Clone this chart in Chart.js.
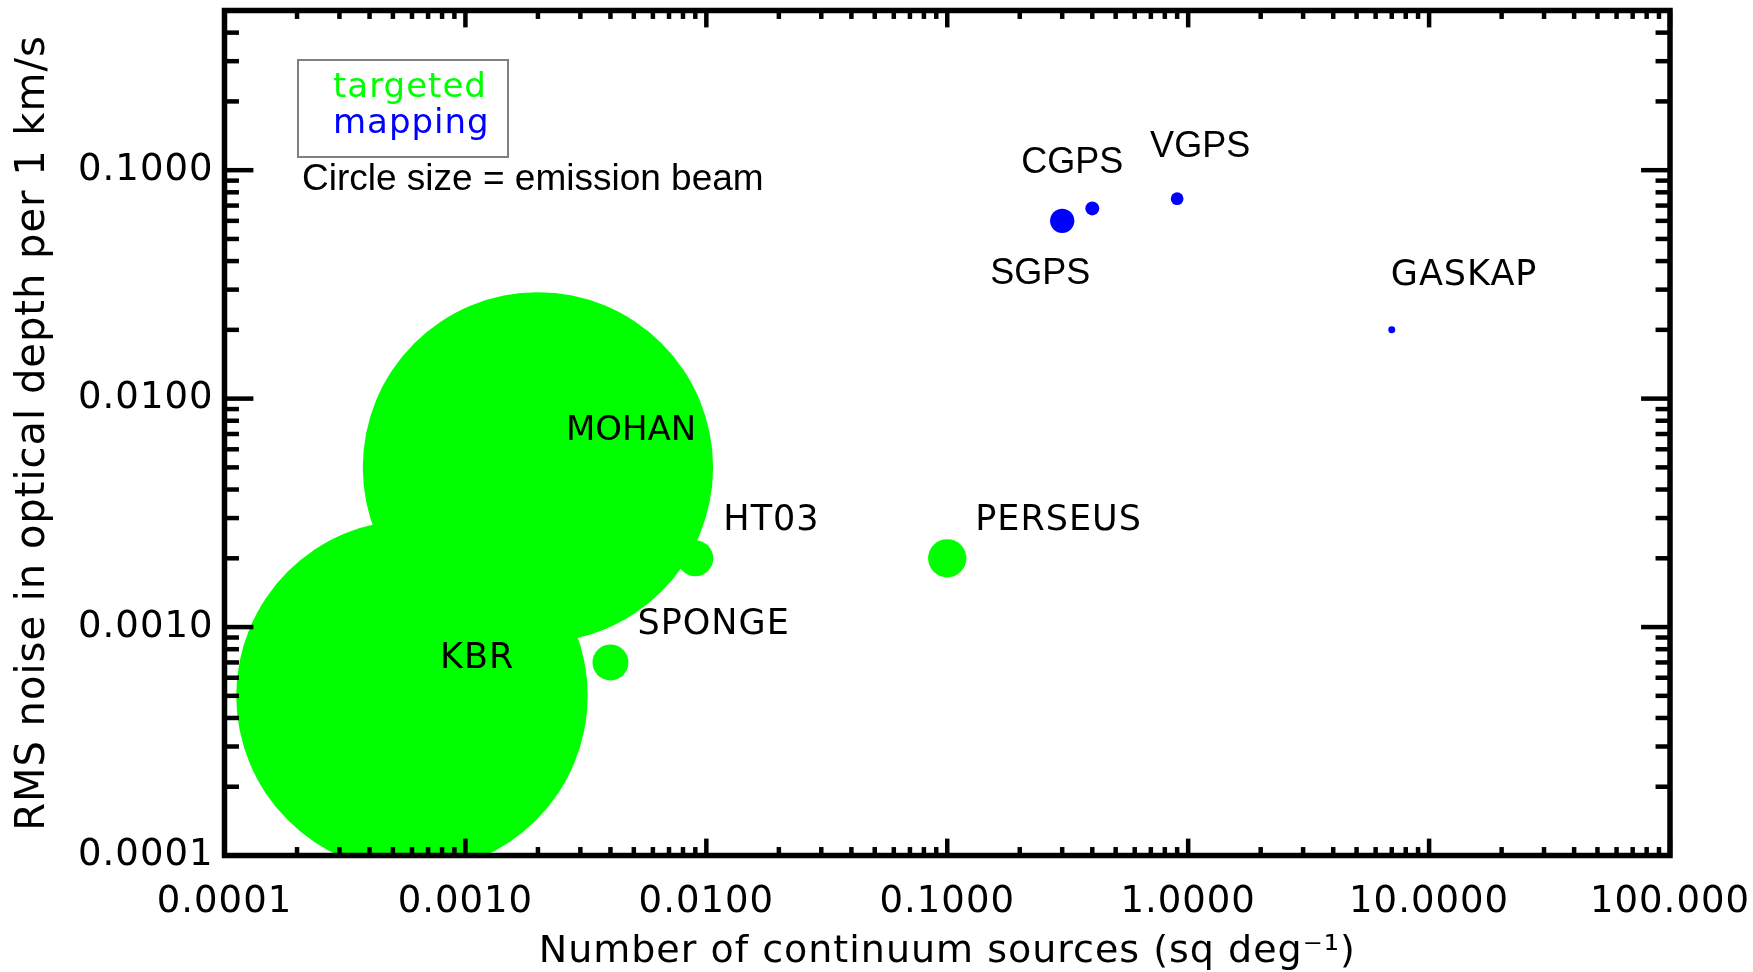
<!DOCTYPE html>
<html>
<head>
<meta charset="utf-8">
<script src="https://cdn.jsdelivr.net/npm/chart.js@4.4.1/dist/chart.umd.min.js"></script>
<style>
  html, body { margin: 0; padding: 0; background: #fff; }
  #wrap { width: 1753px; height: 972px; }
</style>
</head>
<body>
<div id="wrap"><canvas id="c" width="1753" height="972"></canvas></div>
<script>
// HI absorption surveys: continuum source density, optical-depth noise and emission beam
const surveys     = ['KBR', 'MOHAN', 'HT03', 'SPONGE', 'PERSEUS', 'SGPS', 'CGPS', 'VGPS', 'GASKAP'];
const surveyKind  = ['targeted', 'targeted', 'targeted', 'targeted', 'targeted', 'mapping', 'mapping', 'mapping', 'mapping'];
const srcDensity  = [0.0006, 0.002, 0.009, 0.004, 0.1, 0.3, 0.4, 0.9, 7];          // sq deg^-1
const rmsTau      = [0.0005, 0.005, 0.002, 0.0007, 0.002, 0.06, 0.068, 0.075, 0.02]; // per 1 km/s
const beamArcmin  = [30.3, 30.2, 3.1, 3.1, 3.3, 2.1, 1.2, 1.1, 0.6];                // emission beam

const xTickValues = [1e-4, 1e-3, 1e-2, 1e-1, 1, 10, 100];
const xTickLabels = ['0.0001', '0.0010', '0.0100', '0.1000', '1.0000', '10.0000', '100.000'];
const yTickValues = [1e-4, 1e-3, 1e-2, 1e-1];
const yTickLabels = ['0.0001', '0.0010', '0.0100', '0.1000'];

const kindNames  = ['targeted', 'mapping'];
const kindColors = { targeted: '#00ff00', mapping: '#0000ff' };

// drawing style
const PX_PER_ARCMIN = 5.8;
const IDL_FONT = '"DejaVu Sans", sans-serif';
const ARIAL_FONT = '"Liberation Sans", Arial, sans-serif';

// survey label placement relative to its circle centre (pixels)
const labelLayout = {
  KBR:     { dx: 28,  dy: -37, align: 'left',   font: '35px ' + IDL_FONT, spacing: '1px' },
  MOHAN:   { dx: 28,  dy: -36, align: 'left',   font: '34px ' + IDL_FONT, spacing: '0px' },
  HT03:    { dx: 28,  dy: -37, align: 'left',   font: '35px ' + IDL_FONT, spacing: '1px' },
  SPONGE:  { dx: 27,  dy: -38, align: 'left',   font: '35px ' + IDL_FONT, spacing: '1px' },
  PERSEUS: { dx: 28,  dy: -37, align: 'left',   font: '35px ' + IDL_FONT, spacing: '1px' },
  SGPS:    { dx: -22, dy: 53,  align: 'center', font: '36px ' + ARIAL_FONT, spacing: '0px' },
  CGPS:    { dx: -20, dy: -45, align: 'center', font: '36px ' + ARIAL_FONT, spacing: '0px' },
  VGPS:    { dx: 23,  dy: -52, align: 'center', font: '36px ' + ARIAL_FONT, spacing: '0px' },
  GASKAP:  { dx: -1,  dy: -54, align: 'left',   font: '35px ' + IDL_FONT, spacing: '1px' }
};

const datasets = kindNames.map(k => ({
  label: k,
  data: surveys
    .map((name, i) => ({ x: srcDensity[i], y: rmsTau[i], r: beamArcmin[i] * PX_PER_ARCMIN, name, kind: surveyKind[i] }))
    .filter(p => p.kind === k),
  backgroundColor: kindColors[k],
  borderWidth: 0,
  hoverRadius: 0,
  clip: 0
}));

// widely spaced axis lettering
const spacingPlugin = {
  id: 'spacing',
  beforeDraw(chart) { chart.ctx.letterSpacing = '1px'; }
};

// box frame with inward major/minor log ticks on all four sides
const framePlugin = {
  id: 'frame',
  afterDatasetsDraw(chart) {
    const { ctx, chartArea: a, scales } = chart;
    const xs = scales.x, ys = scales.y;
    const xMajor = 0.02 * a.height, yMajor = 0.02 * a.width;
    ctx.save();
    ctx.strokeStyle = '#000';
    ctx.lineCap = 'butt';
    const seg = (x1, y1, x2, y2) => { ctx.beginPath(); ctx.moveTo(x1, y1); ctx.lineTo(x2, y2); ctx.stroke(); };
    for (let e = -4; e <= 2; e++) {
      for (let m = 1; m <= 9; m++) {
        const v = m * Math.pow(10, e);
        if (v < xs.min * 0.999 || v > xs.max * 1.001) continue;
        const px = xs.getPixelForValue(v);
        const len = m === 1 ? xMajor : xMajor / 2;
        ctx.lineWidth = 4.5;
        seg(px, a.bottom, px, a.bottom - len);
        seg(px, a.top, px, a.top + len);
      }
    }
    for (let e = -4; e <= 0; e++) {
      for (let m = 1; m <= 9; m++) {
        const v = m * Math.pow(10, e);
        if (v < ys.min * 0.999 || v > ys.max * 1.001) continue;
        const py = ys.getPixelForValue(v);
        const len = m === 1 ? yMajor : yMajor / 2;
        ctx.lineWidth = 4.5;
        seg(a.left, py, a.left + len, py);
        seg(a.right, py, a.right - len, py);
      }
    }
    ctx.lineWidth = 5.5;
    ctx.strokeRect(a.left, a.top, a.width, a.height);
    ctx.restore();
  }
};

// survey names, legend box and the beam note
const notesPlugin = {
  id: 'notes',
  afterDraw(chart) {
    const { ctx } = chart;
    ctx.save();
    ctx.fillStyle = '#000';
    ctx.textBaseline = 'middle';
    chart.data.datasets.forEach((ds, di) => {
      const meta = chart.getDatasetMeta(di);
      ds.data.forEach((p, i) => {
        const el = meta.data[i];
        const lay = labelLayout[p.name];
        ctx.font = lay.font;
        ctx.letterSpacing = lay.spacing;
        ctx.textAlign = lay.align;
        ctx.fillText(p.name, el.x + lay.dx, el.y + lay.dy);
      });
    });

    // legend
    ctx.strokeStyle = '#808080';
    ctx.lineWidth = 2;
    ctx.strokeRect(298, 60, 210, 97);
    ctx.textAlign = 'left';
    ctx.textBaseline = 'alphabetic';
    ctx.font = '34px ' + IDL_FONT;
    ctx.letterSpacing = '1px';
    kindNames.forEach((k, i) => {
      ctx.fillStyle = kindColors[k];
      ctx.fillText(k, 333, 97 + i * 36);
    });

    ctx.letterSpacing = '0px';
    ctx.fillStyle = '#000';
    ctx.font = '37px ' + ARIAL_FONT;
    ctx.fillText('Circle size = emission beam', 302, 190);
    ctx.restore();
  }
};

Chart.defaults.color = '#000';

new Chart(document.getElementById('c'), {
  type: 'bubble',
  data: { datasets },
  options: {
    responsive: false,
    devicePixelRatio: 1,
    animation: false,
    events: [],
    layout: { autoPadding: false, padding: { left: 0, top: 10.5, right: 83, bottom: 0 } },
    plugins: { legend: { display: false }, tooltip: { enabled: false } },
    scales: {
      x: {
        type: 'logarithmic',
        position: 'bottom',
        min: 1e-4,
        max: 100,
        afterBuildTicks: s => { s.ticks = xTickValues.map(v => ({ value: v })); },
        afterFit: s => { s.height = 116.5; s.paddingLeft = 0; s.paddingRight = 0; },
        grid: { display: false },
        border: { display: false },
        ticks: {
          autoSkip: false,
          maxRotation: 0,
          padding: 17,
          font: { family: IDL_FONT, size: 37 },
          callback: (v, i) => xTickLabels[i]
        },
        title: {
          display: true,
          text: 'Number of continuum sources (sq deg\u207B\u00B9)',
          font: { family: IDL_FONT, size: 38, lineHeight: 1.05 },
          padding: { top: 0, bottom: 0 }
        }
      },
      y: {
        type: 'logarithmic',
        position: 'left',
        min: 1e-4,
        max: 0.5,
        afterBuildTicks: s => { s.ticks = yTickValues.map(v => ({ value: v })); },
        afterFit: s => { s.width = 224.5; s.paddingTop = 0; s.paddingBottom = 0; },
        grid: { display: false },
        border: { display: false },
        ticks: {
          autoSkip: false,
          padding: 3,
          font: { family: IDL_FONT, size: 37 },
          callback: (v, i) => yTickLabels[i]
        },
        title: {
          display: true,
          text: 'RMS noise in optical depth per 1 km/s',
          font: { family: IDL_FONT, size: 40 },
          padding: { top: 10, bottom: 0 }
        }
      }
    }
  },
  plugins: [spacingPlugin, framePlugin, notesPlugin]
});
</script>
</body>
</html>
